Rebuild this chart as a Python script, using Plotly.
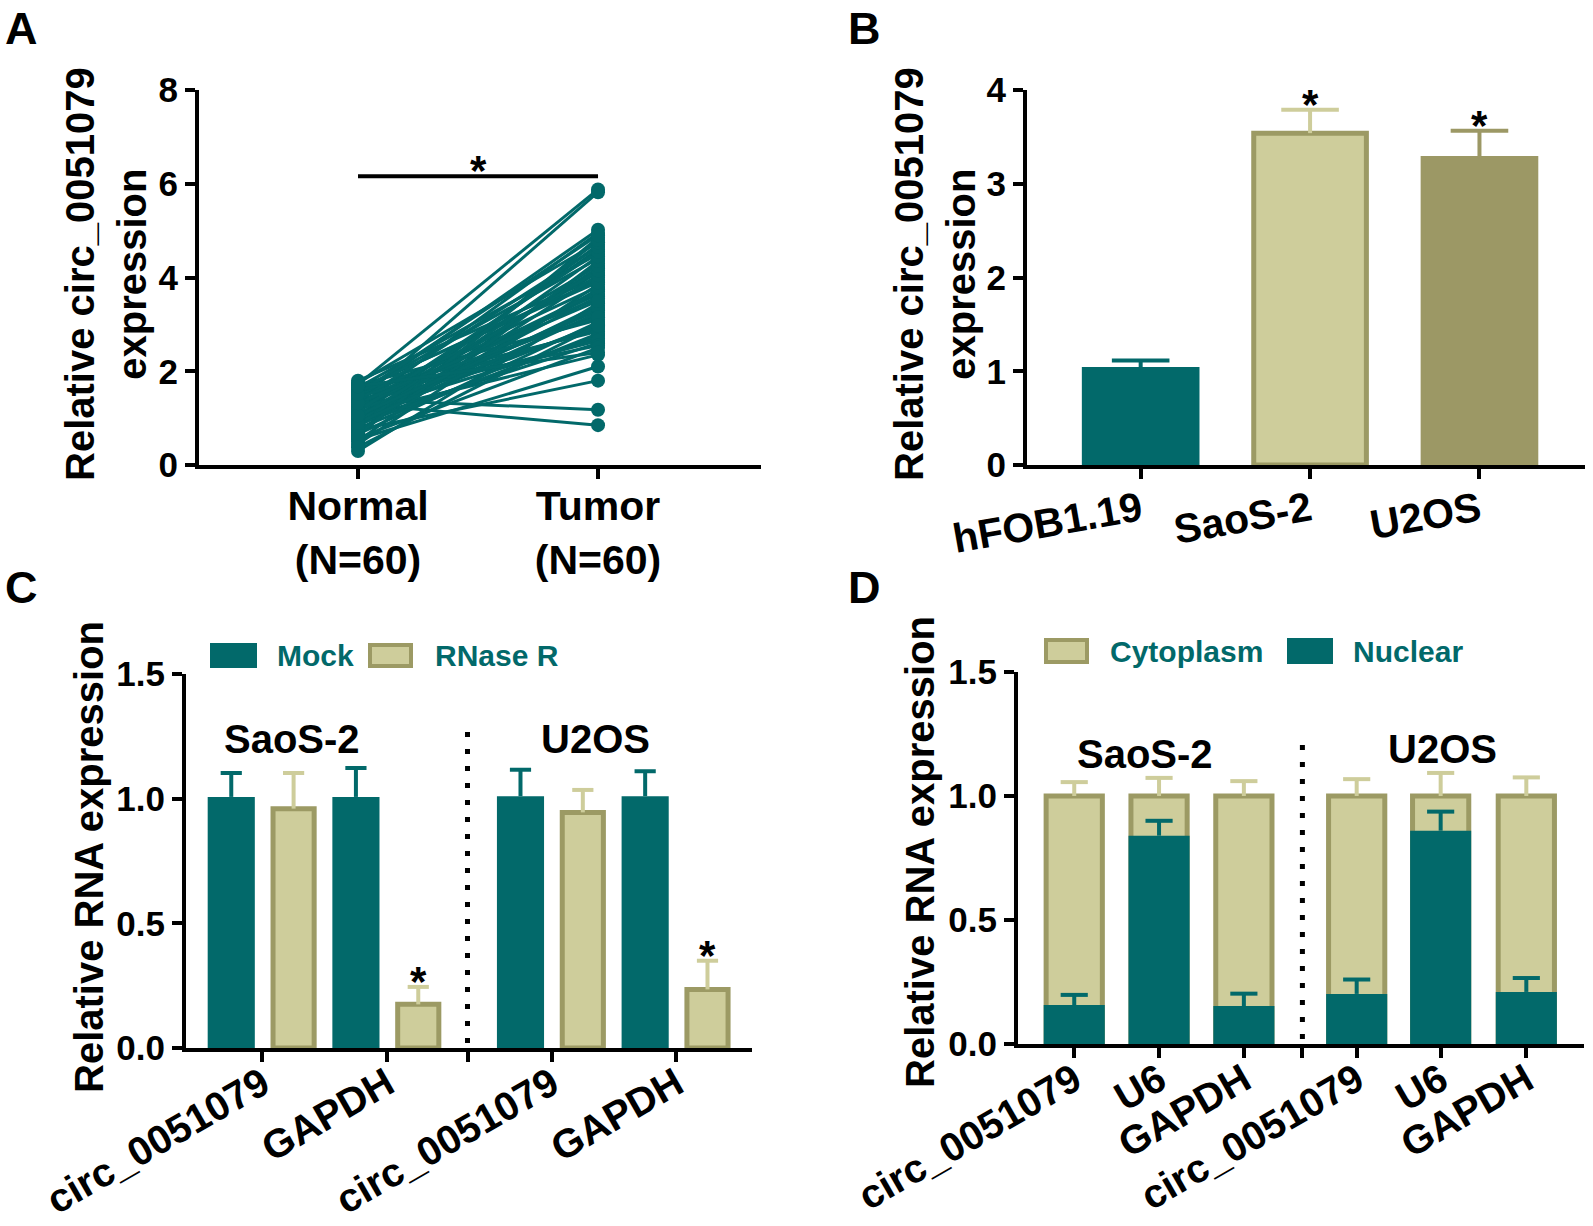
import plotly.graph_objects as go

W, H = 1593, 1226
TEAL = "#02696A"
KHAKI = "#CECD9B"
OLIVE = "#9C9A64"
OLIVE_BAR = "#9C9865"
FONT = "Arial, 'Liberation Sans', sans-serif"

# ---------------- data ----------------
# Panel A: paired samples
a_groups = ["Normal<br>(N=60)", "Tumor<br>(N=60)"]
a_normal = [1.72, 1.35, 1.40, 1.30, 0.55, 0.75, 1.10, 0.95, 1.25, 1.45,
            0.62, 0.88, 1.05, 1.65, 1.55, 0.70, 0.98, 1.15, 1.80, 1.60,
            0.45, 0.82, 1.20, 1.50, 0.30, 0.92, 1.08, 1.28, 1.70, 0.66,
            1.00, 1.18, 1.38, 1.58, 0.78, 0.86, 1.12, 1.33, 1.48, 0.58,
            0.95, 1.22, 1.42, 1.62, 0.72, 1.02, 1.26, 0.50, 0.84, 1.14,
            1.36, 1.75, 0.64, 0.90, 1.06, 1.44, 0.38, 1.32, 1.52, 1.68]
a_tumor = [5.88, 5.82, 1.18, 0.85, 2.10, 1.80, 2.35, 2.60, 4.95, 5.02,
           4.85, 4.70, 4.60, 4.50, 4.40, 4.30, 4.20, 4.10, 4.00, 3.95,
           3.85, 3.75, 3.65, 3.55, 3.45, 3.40, 3.30, 3.20, 3.10, 3.05,
           3.00, 2.95, 2.90, 2.85, 2.80, 2.75, 2.70, 2.65, 2.55, 2.50,
           3.60, 3.70, 3.80, 3.90, 4.05, 4.15, 4.25, 4.35, 4.45, 4.55,
           4.65, 4.75, 4.80, 3.25, 3.35, 3.15, 2.98, 3.50, 4.90, 2.40]
a_sig = 6.16

# Panel B: cell lines
b_cells = ["hFOB1.19", "SaoS-2", "U2OS"]
b_mean = [1.02, 3.54, 3.27]
b_err_top = [1.115, 3.79, 3.565]

# Panel C: RNase R
c_genes = ["circ_0051079", "GAPDH", "circ_0051079", "GAPDH"]
c_cells = ["SaoS-2", "U2OS"]
c_mock = [1.007, 1.007, 1.01, 1.01]
c_mock_err_top = [1.103, 1.123, 1.116, 1.11]
c_rnase = [0.96, 0.175, 0.945, 0.235]
c_rnase_err_top = [1.103, 0.245, 1.035, 0.35]

# Panel D: subcellular fractionation
d_genes = ["circ_0051079", "U6", "GAPDH", "circ_0051079", "U6", "GAPDH"]
d_cells = ["SaoS-2", "U2OS"]
d_cyto = [1.0, 1.0, 1.0, 1.0, 1.0, 1.0]
d_cyto_err_top = [1.056, 1.073, 1.06, 1.068, 1.093, 1.075]
d_nuc = [0.157, 0.84, 0.153, 0.202, 0.86, 0.21]
d_nuc_err_top = [0.198, 0.90, 0.203, 0.26, 0.937, 0.266]

# ---------------- layout helpers ----------------
def px(x):
    return x / W


def py(y):
    return 1 - y / H


def err_trace(xs, bases, tops, half, color, xa, ya, lw=4):
    X, Y = [], []
    for x, b, t in zip(xs, bases, tops):
        X += [x, x, None, x - half, x + half, None]
        Y += [b, t, None, t, t, None]
    return go.Scatter(x=X, y=Y, mode="lines", line=dict(color=color, width=lw),
                      xaxis=xa, yaxis=ya, showlegend=False, hoverinfo="skip")


fig = go.Figure()

# ---------------- Panel A ----------------
a_pos = [0, 1]
AX, AY = [], []
for n, t in zip(a_normal, a_tumor):
    AX += [a_pos[0], a_pos[1], None]
    AY += [n, t, None]
fig.add_trace(go.Scatter(x=AX, y=AY, mode="lines+markers",
                         line=dict(color=TEAL, width=3),
                         marker=dict(color=TEAL, size=14),
                         xaxis="x", yaxis="y", showlegend=False))

# ---------------- Panel B ----------------
b_pos = [0, 1, 2]
fig.add_trace(go.Bar(x=b_pos, y=b_mean, width=0.665,
                     marker=dict(color=[TEAL, KHAKI, OLIVE_BAR],
                                 line=dict(color=[TEAL, OLIVE, OLIVE_BAR], width=5)),
                     xaxis="x2", yaxis="y2", showlegend=False))
for i, col in enumerate([TEAL, KHAKI, OLIVE_BAR]):
    fig.add_trace(err_trace([b_pos[i]], [b_mean[i]], [b_err_top[i]], 0.17, col, "x2", "y2"))

# ---------------- Panel C ----------------
c_pos = [0, 1, 2.32, 3.32]
c_div = 1.645
c_mock_x = [p - 0.25 for p in c_pos]
c_rnase_x = [p + 0.25 for p in c_pos]
fig.add_trace(go.Bar(x=c_mock_x, y=c_mock, width=0.378, name="Mock",
                     marker=dict(color=TEAL, line=dict(width=0)),
                     xaxis="x3", yaxis="y3", showlegend=False))
fig.add_trace(go.Bar(x=c_rnase_x, y=c_rnase, width=0.33, name="RNase R",
                     marker=dict(color=KHAKI, line=dict(color=OLIVE, width=5)),
                     xaxis="x3", yaxis="y3", showlegend=False))
fig.add_trace(err_trace(c_mock_x, c_mock, c_mock_err_top, 0.085, TEAL, "x3", "y3"))
fig.add_trace(err_trace(c_rnase_x, c_rnase, c_rnase_err_top, 0.085, KHAKI, "x3", "y3"))

# ---------------- Panel D ----------------
d_pos = [0, 1, 2, 3.33, 4.32, 5.33]
d_div = 2.69
fig.add_trace(go.Bar(x=d_pos, y=d_cyto, width=0.663, name="Cytoplasm",
                     marker=dict(color=KHAKI, line=dict(color=OLIVE, width=5)),
                     xaxis="x4", yaxis="y4", showlegend=False))
fig.add_trace(go.Bar(x=d_pos, y=d_nuc, width=0.72, name="Nuclear",
                     marker=dict(color=TEAL, line=dict(width=0)),
                     xaxis="x4", yaxis="y4", showlegend=False))
fig.add_trace(err_trace(d_pos, d_cyto, d_cyto_err_top, 0.16, KHAKI, "x4", "y4"))
fig.add_trace(err_trace(d_pos, d_nuc, d_nuc_err_top, 0.16, TEAL, "x4", "y4"))

# ---------------- axes ----------------
def standoff(v):
    try:
        go.layout.XAxis(ticklabelstandoff=v)
        return {"ticklabelstandoff": v}
    except Exception:
        return {}


def axis_style(**kw):
    d = dict(showline=True, linecolor="black", linewidth=4, ticks="outside",
             ticklen=10, tickwidth=4, tickcolor="black", showgrid=False,
             zeroline=False, fixedrange=True, automargin=False,
             tickfont=dict(family=FONT, size=35, color="black", weight="bold"))
    d.update(kw)
    return d


def xaxis_style(so, size=41, **kw):
    d = axis_style(tickfont=dict(family=FONT, size=size, color="black", weight="bold"), **standoff(so))
    d.update(kw)
    return d


fig.update_layout(
    template="none",
    width=W, height=H, margin=dict(l=0, r=0, t=0, b=0, pad=0, autoexpand=False),
    paper_bgcolor="white", plot_bgcolor="white", barmode="overlay", showlegend=False,
    font=dict(family=FONT, color="black"),
    xaxis=xaxis_style(-8, domain=[px(199), px(761)], range=[-0.6625, 1.679], anchor="y",
                      tickvals=a_pos, ticktext=a_groups),
    yaxis=axis_style(domain=[py(465), py(90)], range=[0, 8], anchor="x",
                     tickvals=[0, 2, 4, 6, 8]),
    xaxis2=xaxis_style(-8, domain=[px(1027), px(1585)], range=[-0.671, 2.623], anchor="y2",
                       tickvals=b_pos, ticktext=b_cells, tickangle=-10),
    yaxis2=axis_style(domain=[py(465), py(90)], range=[0, 4], anchor="x2",
                      tickvals=[0, 1, 2, 3, 4]),
    xaxis3=xaxis_style(-17, 40, domain=[px(186), px(752)], range=[-0.613, 3.927], anchor="y3",
                       tickvals=[c_pos[0], c_pos[1], c_div, c_pos[2], c_pos[3]],
                       ticktext=[c_genes[0], c_genes[1], "", c_genes[2], c_genes[3]],
                       tickangle=-30),
    yaxis3=axis_style(domain=[py(1048), py(674)], range=[0, 1.5], anchor="x3",
                      tickvals=[0, 0.5, 1.0, 1.5], tickformat=".1f"),
    xaxis4=xaxis_style(-17, 40, domain=[px(1018), px(1584)], range=[-0.663, 6.01], anchor="y4",
                       tickvals=[d_pos[0], d_pos[1], d_pos[2], d_div, d_pos[3], d_pos[4], d_pos[5]],
                       ticktext=[d_genes[0], d_genes[1], d_genes[2], "", d_genes[3], d_genes[4], d_genes[5]],
                       tickangle=-30),
    yaxis4=axis_style(domain=[py(1044), py(672)], range=[0, 1.5], anchor="x4",
                      tickvals=[0, 0.5, 1.0, 1.5], tickformat=".1f"),
)

# ---------------- decorations ----------------
shapes = []
annotations = []
bold = lambda size, color="black": dict(family=FONT, size=size, color=color, weight="bold")

# significance bar A
shapes.append(dict(type="line", xref="x", yref="y", x0=a_pos[0], x1=a_pos[1],
                   y0=a_sig, y1=a_sig, line=dict(color="black", width=4)))
annotations.append(dict(x=0.5, y=a_sig, xref="x", yref="y", text="*", showarrow=False,
                        font=bold(42), yanchor="bottom", yshift=-20))
# stars B
for i in [1, 2]:
    annotations.append(dict(x=b_pos[i], y=b_err_top[i], xref="x2", yref="y2", text="*",
                            showarrow=False, font=bold(42), yanchor="bottom", yshift=-20))
# stars C
for i in [1, 3]:
    annotations.append(dict(x=c_rnase_x[i], y=c_rnase_err_top[i], xref="x3", yref="y3", text="*",
                            showarrow=False, font=bold(42), yanchor="bottom", yshift=-20))

# dotted dividers
shapes.append(dict(type="line", xref="x3", yref="y3", x0=c_div, x1=c_div, y0=0.02, y1=1.31,
                   line=dict(color="black", width=5, dash="5px,12px")))
shapes.append(dict(type="line", xref="x4", yref="y4", x0=d_div, x1=d_div, y0=0.02, y1=1.23,
                   line=dict(color="black", width=5, dash="5px,12px")))

# cell-line group labels
annotations += [
    dict(x=0.24, y=1.24, xref="x3", yref="y3", text=c_cells[0], showarrow=False, font=bold(40)),
    dict(x=2.67, y=1.24, xref="x3", yref="y3", text=c_cells[1], showarrow=False, font=bold(40)),
    dict(x=0.83, y=1.17, xref="x4", yref="y4", text=d_cells[0], showarrow=False, font=bold(40)),
    dict(x=4.34, y=1.19, xref="x4", yref="y4", text=d_cells[1], showarrow=False, font=bold(40)),
]

# y-axis titles
ytitle = "Relative circ_0051079<br>expression"
annotations += [
    dict(x=px(106), y=py(274), xref="paper", yref="paper", text=ytitle, textangle=-90,
         showarrow=False, font=bold(40), xanchor="center", yanchor="middle"),
    dict(x=px(935), y=py(274), xref="paper", yref="paper", text=ytitle, textangle=-90,
         showarrow=False, font=bold(40), xanchor="center", yanchor="middle"),
    dict(x=px(89), y=py(857), xref="paper", yref="paper", text="Relative RNA expression",
         textangle=-90, showarrow=False, font=bold(40), xanchor="center", yanchor="middle"),
    dict(x=px(920), y=py(852), xref="paper", yref="paper", text="Relative RNA expression",
         textangle=-90, showarrow=False, font=bold(40), xanchor="center", yanchor="middle"),
]

# panel letters
for letter, lx, ly in [("A", 21, 28), ("B", 864, 28), ("C", 21, 588), ("D", 864, 588)]:
    annotations.append(dict(x=px(lx), y=py(ly), xref="paper", yref="paper", text=letter,
                            showarrow=False, font=bold(45), borderpad=0,
                            xanchor="center", yanchor="middle"))

# custom legends (key boxes + labels)
def key(x0, x1, y0, y1, fill, edge=None):
    if edge:
        shapes.append(dict(type="rect", xref="paper", yref="paper", x0=px(x0 + 2), x1=px(x1 - 2),
                           y0=py(y1 - 2), y1=py(y0 + 2), fillcolor=fill, line=dict(color=edge, width=4)))
    else:
        shapes.append(dict(type="rect", xref="paper", yref="paper", x0=px(x0), x1=px(x1),
                           y0=py(y1), y1=py(y0), fillcolor=fill, line=dict(width=0)))


def key_label(x, y, text):
    annotations.append(dict(x=px(x), y=py(y), xref="paper", yref="paper", text=text,
                            showarrow=False, font=bold(30, TEAL), xanchor="left", yanchor="middle"))

key(210, 257, 643, 668, TEAL)
key_label(275, 655, "Mock")
key(368, 413, 643, 668, KHAKI, OLIVE)
key_label(433, 655, "RNase R")
key(1044, 1089, 638, 664, KHAKI, OLIVE)
key_label(1108, 651, "Cytoplasm")
key(1287, 1333, 638, 664, TEAL)
key_label(1351, 651, "Nuclear")

fig.update_layout(shapes=shapes, annotations=annotations)
fig.write_html("out.html", config={"displayModeBar": False},
               post_script="document.body.style.margin='0';")
